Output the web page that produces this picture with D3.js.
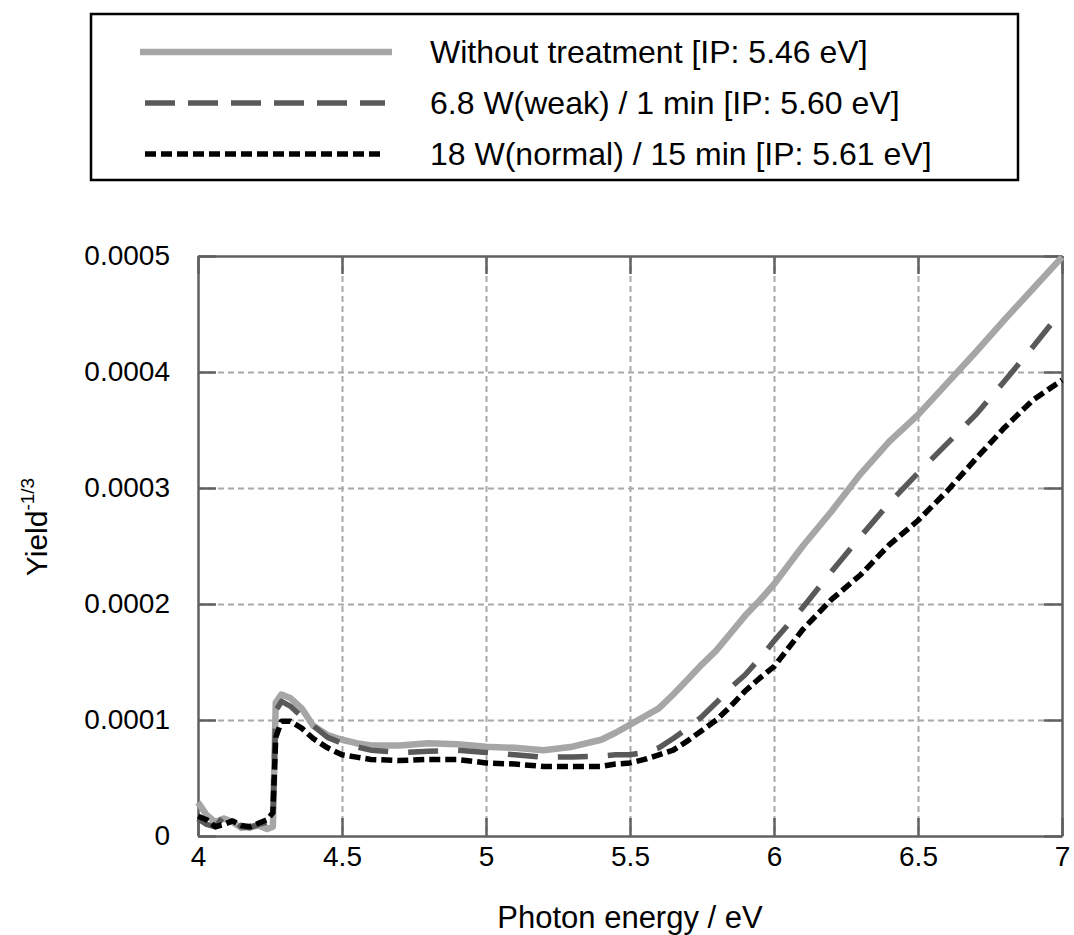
<!DOCTYPE html>
<html>
<head>
<meta charset="utf-8">
<script src="https://cdn.jsdelivr.net/npm/d3@7"></script>
<style>
  body { margin: 0; background: #fff; }
  svg text { font-family: "Liberation Sans", Arial, sans-serif; fill: #000; }
</style>
</head>
<body>
<div id="chart"></div>
<script>
// photon energy (eV), shared by all three series
let energy = [4.00, 4.03, 4.06, 4.09, 4.12, 4.15, 4.18, 4.21, 4.24, 4.26, 4.27, 4.29, 4.32, 4.36, 4.40,
  4.45, 4.50, 4.55, 4.60, 4.70, 4.80, 4.90, 5.00, 5.10, 5.20, 5.30, 5.40, 5.45, 5.50, 5.55, 5.60,
  5.65, 5.70, 5.75, 5.80, 5.85, 5.90, 5.95, 6.00, 6.10, 6.20, 6.30, 6.40, 6.50, 6.60, 6.70, 6.80, 6.90, 7.00];

// Yield^-1/3 values, in units of 1e-4
let withoutTreatment = [0.29, 0.18, 0.12, 0.15, 0.12, 0.07, 0.08, 0.09, 0.06, 0.08, 1.15, 1.22, 1.19, 1.10, 0.95,
  0.87, 0.83, 0.80, 0.78, 0.78, 0.80, 0.79, 0.77, 0.76, 0.74, 0.77, 0.83, 0.89, 0.96, 1.03, 1.10,
  1.22, 1.35, 1.48, 1.60, 1.75, 1.90, 2.03, 2.17, 2.50, 2.80, 3.12, 3.40, 3.63, 3.90, 4.17, 4.45, 4.72, 4.99];

let weak1min = [0.15, 0.10, 0.08, 0.17, 0.15, 0.08, 0.07, 0.10, 0.12, 0.12, 1.08, 1.16, 1.12, 1.03, 0.95,
  0.85, 0.80, 0.77, 0.74, 0.72, 0.73, 0.74, 0.72, 0.70, 0.68, 0.68, 0.69, 0.70, 0.70, 0.72, 0.76,
  0.84, 0.93, 1.03, 1.15, 1.28, 1.39, 1.53, 1.68, 1.97, 2.28, 2.58, 2.87, 3.13, 3.38, 3.63, 3.92, 4.22, 4.53];

let normal15min = [0.17, 0.14, 0.08, 0.10, 0.13, 0.09, 0.08, 0.11, 0.14, 0.20, 0.85, 0.99, 0.99, 0.93, 0.84,
  0.76, 0.70, 0.68, 0.66, 0.65, 0.66, 0.66, 0.63, 0.62, 0.60, 0.60, 0.60, 0.62, 0.63, 0.66, 0.70,
  0.74, 0.82, 0.91, 1.00, 1.12, 1.25, 1.36, 1.46, 1.78, 2.04, 2.25, 2.51, 2.72, 2.97, 3.25, 3.52, 3.76, 3.93];

let seriesNames = [
  "Without treatment [IP: 5.46 eV]",
  "6.8 W(weak) / 1 min [IP: 5.60 eV]",
  "18 W(normal) / 15 min [IP: 5.61 eV]"
];

let xTicks = [4, 4.5, 5, 5.5, 6, 6.5, 7];
let xTickLabels = ["4", "4.5", "5", "5.5", "6", "6.5", "7"];
let yTicks = [0, 0.0001, 0.0002, 0.0003, 0.0004, 0.0005];
let yTickLabels = ["0", "0.0001", "0.0002", "0.0003", "0.0004", "0.0005"];

let unit = 1e-4;

let svgWidth = 1074;
let svgHeight = 935;

let margin = { top: 256, right: 12, bottom: 99, left: 198 };
let width = svgWidth - margin.left - margin.right;
let height = svgHeight - margin.top - margin.bottom;

let svg = d3.select("#chart")
  .append("svg")
  .attr("width", svgWidth)
  .attr("height", svgHeight);

let chartGroup = svg.append("g")
  .attr("transform", `translate(${margin.left}, ${margin.top})`);

let xScale = d3.scaleLinear().domain([4, 7]).range([0, width]);
let yScale = d3.scaleLinear().domain([0, 0.0005]).range([height, 0]);

// grid lines (inner values only)
let gridColor = "#a9a9a9";
chartGroup.append("g")
  .attr("class", "grid")
  .call(d3.axisBottom(xScale).tickValues(xTicks.slice(1, -1)).tickSize(height).tickFormat(""))
  .call(g => g.select(".domain").remove())
  .call(g => g.selectAll("line").attr("stroke", gridColor).attr("stroke-width", 2).attr("stroke-dasharray", "6,4"));

chartGroup.append("g")
  .attr("class", "grid")
  .call(d3.axisLeft(yScale).tickValues(yTicks.slice(1, -1)).tickSize(-width).tickFormat(""))
  .call(g => g.select(".domain").remove())
  .call(g => g.selectAll("line").attr("stroke", gridColor).attr("stroke-width", 2).attr("stroke-dasharray", "6,4"));

// frame and inward ticks
let frameColor = "#606060";
let tickLen = 18;

let bottomAxis = chartGroup.append("g")
  .attr("transform", `translate(0, ${height})`)
  .call(d3.axisBottom(xScale).tickValues(xTicks).tickSizeInner(-tickLen).tickSizeOuter(0)
    .tickPadding(10).tickFormat((d, i) => xTickLabels[i]));

let leftAxis = chartGroup.append("g")
  .call(d3.axisLeft(yScale).tickValues(yTicks).tickSizeInner(-tickLen).tickSizeOuter(0)
    .tickPadding(28).tickFormat((d, i) => yTickLabels[i]));

let topAxis = chartGroup.append("g")
  .call(d3.axisTop(xScale).tickValues(xTicks).tickSizeInner(-tickLen).tickSizeOuter(0).tickFormat(""));

let rightAxis = chartGroup.append("g")
  .attr("transform", `translate(${width}, 0)`)
  .call(d3.axisRight(yScale).tickValues(yTicks).tickSizeInner(-tickLen).tickSizeOuter(0).tickFormat(""));

[bottomAxis, leftAxis, topAxis, rightAxis].forEach(ax => {
  ax.select(".domain").attr("stroke", frameColor).attr("stroke-width", 2.5);
  ax.selectAll(".tick line").attr("stroke", frameColor).attr("stroke-width", 2.5);
  ax.selectAll("text").attr("font-size", 28).attr("fill", "#000")
    .attr("font-family", "'Liberation Sans', Arial, sans-serif");
});

// series lines
let seriesData = [withoutTreatment, weak1min, normal15min];
let seriesStyle = [
  { color: "#a6a6a6", width: 6.5, dash: null },
  { color: "#595959", width: 5.5, dash: "30,20" },
  { color: "#000000", width: 5.5, dash: "11,5" }
];

let line = d3.line()
  .x(d => xScale(d[0]))
  .y(d => yScale(d[1] * unit));

seriesData.forEach((values, i) => {
  let pts = energy.map((e, j) => [e, values[j]]);
  chartGroup.append("path")
    .datum(pts)
    .attr("fill", "none")
    .attr("stroke", seriesStyle[i].color)
    .attr("stroke-width", seriesStyle[i].width)
    .attr("stroke-linejoin", "round")
    .attr("stroke-dasharray", seriesStyle[i].dash)
    .attr("d", line);
});

// axis titles
chartGroup.append("text")
  .attr("x", width / 2)
  .attr("y", height + 92)
  .attr("text-anchor", "middle")
  .attr("font-size", 31)
  .text("Photon energy / eV");

let yTitle = svg.append("text")
  .attr("transform", `translate(47, 527) rotate(-90)`)
  .attr("text-anchor", "middle")
  .attr("font-size", 30);
yTitle.append("tspan").text("Yield");
yTitle.append("tspan").attr("dy", -13).attr("font-size", 19).text("-1/3");

// legend
let legend = svg.append("g");
legend.append("rect")
  .attr("x", 91).attr("y", 14)
  .attr("width", 927).attr("height", 166)
  .attr("fill", "#fff")
  .attr("stroke", "#000")
  .attr("stroke-width", 2.5);

seriesNames.forEach((name, i) => {
  let cy = 52 + i * 51;
  legend.append("line")
    .attr("x1", i === 0 ? 140 : 145).attr("x2", i === 0 ? 392 : 385)
    .attr("y1", cy).attr("y2", cy)
    .attr("stroke", seriesStyle[i].color)
    .attr("stroke-width", seriesStyle[i].width)
    .attr("stroke-dasharray", i === 1 ? "30,13" : seriesStyle[i].dash);
  legend.append("text")
    .attr("x", 430)
    .attr("y", cy + 11)
    .attr("font-size", 32)
    .text(name);
});
</script>
</body>
</html>
